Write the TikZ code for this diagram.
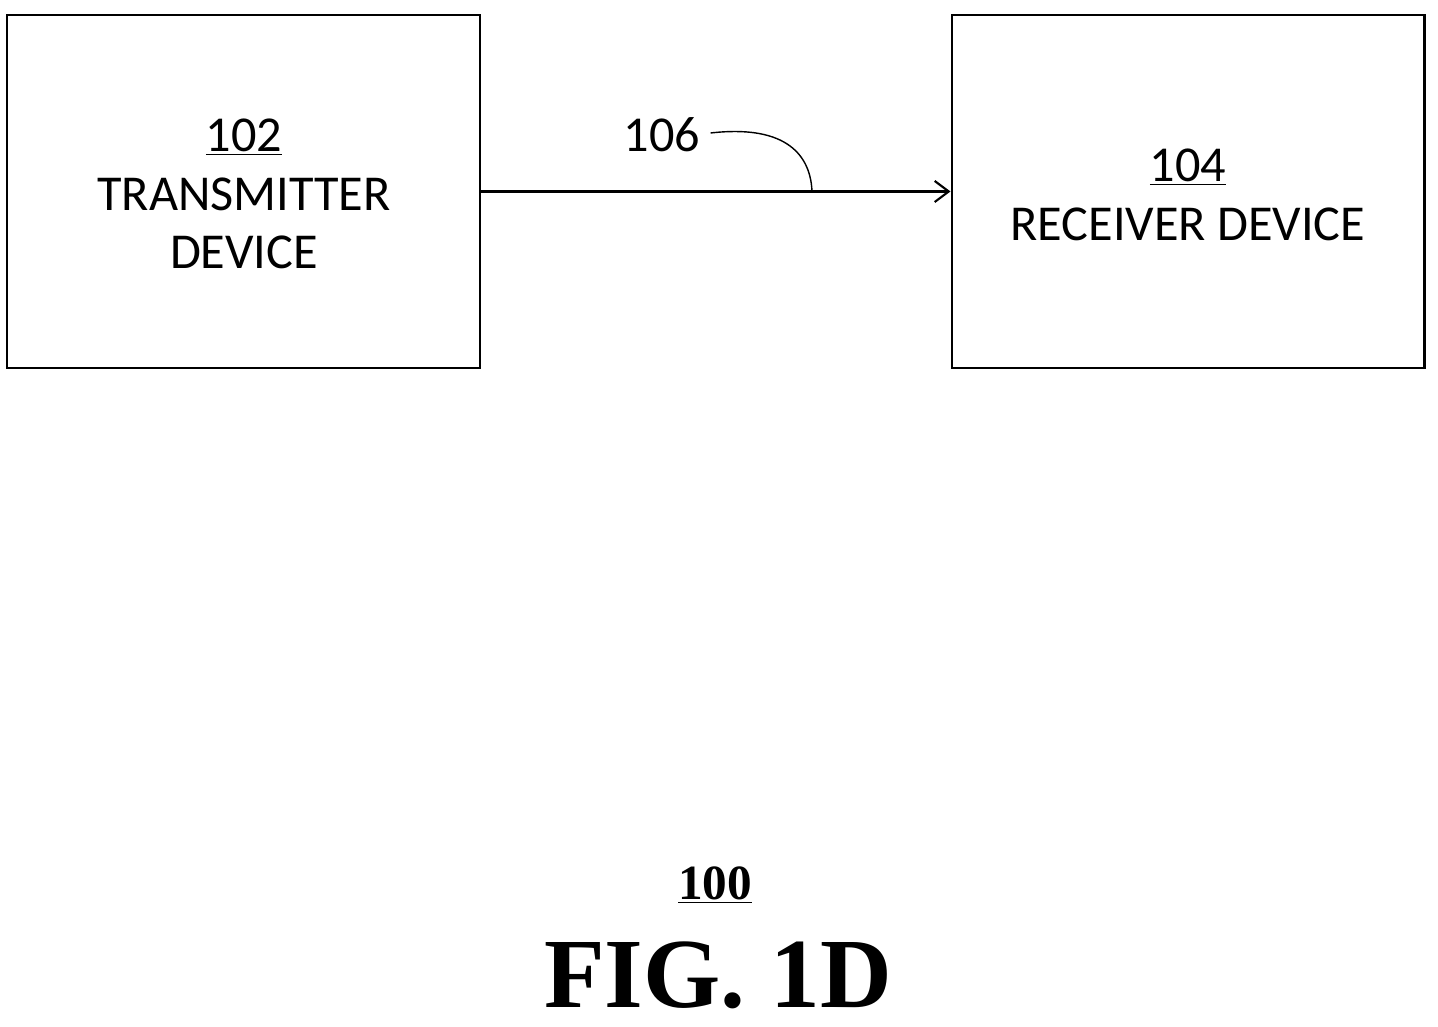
\documentclass[tikz,border=0pt]{standalone}
\usepackage{fontspec}
\setmainfont{Carlito}
\newfontfamily\figfont{Liberation Serif}
\usetikzlibrary{positioning,arrows.meta}
\begin{document}
\begin{tikzpicture}[x=0.02cm,y=-0.02cm,
    block/.style={draw,line width=1.2pt,minimum width=9.46cm,minimum height=7.06cm,inner sep=0pt},
    lbl/.style={font=\fontsize{28.6}{33.5}\selectfont,align=center,inner sep=0pt}]
  \useasboundingbox (0,0) rectangle (1438,1027);
  \node[block] (tx) at (243.5,191.5) {};
  \node[block] (rx) at (1188,191.5) {};
  \node[lbl] (txt) at (244,194) {\underline{102}\\TRANSMITTER\\DEVICE};
  \node[lbl] (rxt) at (1188,195) {\underline{104}\\RECEIVER DEVICE};
  \draw[line width=1.2pt,-{Straight Barb[length=8pt,width=12pt,line width=1.2pt]}] (tx.east) -- (rx.west);
  \node[lbl] (l106) at (662,135) {106};
  \coordinate (hook) at (812,191);
  \draw[line width=0.8pt] (l106.east) ++(10,-2) .. controls (780,125) and (810,150) .. (hook);
  \node[font=\figfont\bfseries\fontsize{28}{32}\selectfont,inner sep=0pt] (num) at (715,885) {\underline{100}};
  \node[font=\figfont\bfseries\fontsize{56.5}{60}\selectfont,inner sep=0pt] (fig) at (718,975) {FIG. 1D};
\end{tikzpicture}
\end{document}
